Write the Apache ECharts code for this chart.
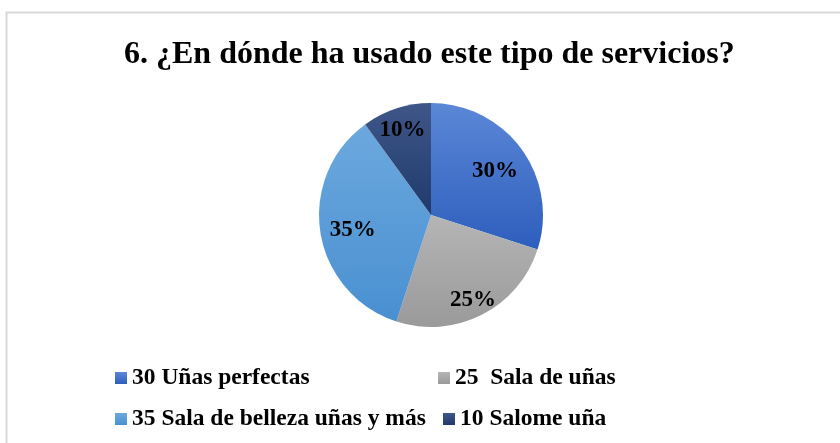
<!DOCTYPE html>
<html>
<head>
<meta charset="utf-8">
<script src="https://cdn.jsdelivr.net/npm/echarts@6/dist/echarts.min.js"></script>
<style>
  html, body { margin: 0; padding: 0; background: #fff; }
  #chart { width: 840px; height: 443px; }
</style>
</head>
<body>
<div id="chart"></div>
<script>
const titleText = '6. ¿En dónde ha usado este tipo de servicios?'
const categories = ['30 Uñas perfectas', '25  Sala de uñas', '35 Sala de belleza uñas y más', '10 Salome uña']
const values = [30, 25, 35, 10]

// colores tipo Excel (claro arriba, oscuro abajo)
const colorPairs = [
  ['#5b87d6', '#2e5ebd'],
  ['#b5b5b5', '#9a9a9a'],
  ['#6ca8de', '#4990d1'],
  ['#3f5688', '#203a6c']
]
// posición radial de cada etiqueta (fracción del radio)
const labelPos = [0.68, 0.8, 0.68, 0.8]
// posición de cada entrada de la leyenda [x del icono, centro y]
const legendPos = [[115, 379], [438, 379], [115, 420], [443, 420]]

const serif = '"Liberation Serif", "Times New Roman", serif'
const R = 112
const total = values.reduce((a, b) => a + b, 0)

let acc = 0
const pieData = values.map((v, i) => {
  const mid = (acc + v / 2) / total * Math.PI * 2
  acc += v
  const k = (labelPos[i] - 0.5) * R
  return {
    name: categories[i],
    value: v,
    itemStyle: {
      color: new echarts.graphic.LinearGradient(0, 0, 0, 1, [
        { offset: 0, color: colorPairs[i][0] },
        { offset: 1, color: colorPairs[i][1] }
      ])
    },
    label: { offset: [Math.sin(mid) * k, -Math.cos(mid) * k + 3] }
  }
})

const legendText = { fontFamily: serif, fontWeight: 'bold', fontSize: 23.5, color: '#000' }
const legends = categories.map((c, i) => ({
  data: [c],
  left: legendPos[i][0],
  top: legendPos[i][1] - 13,
  padding: 0,
  itemWidth: 12,
  itemHeight: 12,
  itemGap: 4,
  icon: 'rect',
  textStyle: legendText,
  selectedMode: false
}))

const chart = echarts.init(document.getElementById('chart'))
chart.setOption({
  animation: false,
  title: {
    text: titleText,
    left: 124,
    top: 39,
    padding: 0,
    textStyle: { fontFamily: serif, fontWeight: 'bold', fontSize: 32, color: '#000' }
  },
  graphic: [{
    type: 'rect',
    shape: { x: 6.5, y: 12.5, width: 900, height: 500 },
    style: { fill: 'none', stroke: '#d9d9d9', lineWidth: 2 },
    silent: true
  }],
  legend: legends,
  series: [{
    type: 'pie',
    center: [431, 215],
    radius: R,
    startAngle: 90,
    clockwise: true,
    label: {
      show: true,
      position: 'inside',
      formatter: '{d}%',
      fontFamily: serif,
      fontWeight: 'bold',
      fontSize: 23,
      color: '#000'
    },
    labelLine: { show: false },
    emphasis: { disabled: true },
    data: pieData
  }]
})
</script>
</body>
</html>
